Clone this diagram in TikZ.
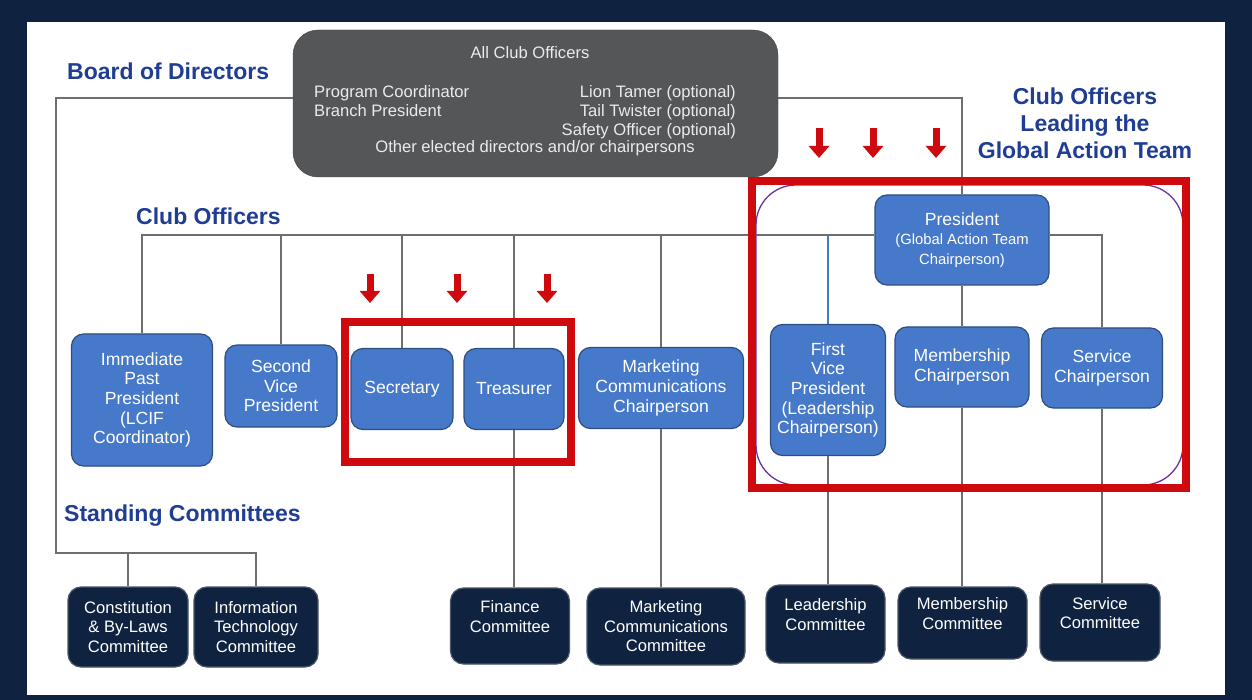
\documentclass[tikz,border=0pt]{standalone}
\usepackage{fontspec}
\setmainfont{Liberation Sans}
\usepackage{xcolor}
\usepackage{tikz}
\usetikzlibrary{arrows.meta}
\pgfdeclarelayer{nodelayer}
\pgfdeclarelayer{edgelayer}
\pgfsetlayers{nodelayer,edgelayer,main}
\definecolor{pagenavy}{HTML}{0F2240}
\definecolor{officerblue}{HTML}{4679C9}
\definecolor{officeredge}{HTML}{2E4E80}
\definecolor{committeenavy}{HTML}{0F2341}
\definecolor{committeeedge}{HTML}{4B5566}
\definecolor{boardgrey}{HTML}{545658}
\definecolor{linegrey}{HTML}{6E6E6E}
\definecolor{headblue}{HTML}{1F3E93}
\definecolor{alertred}{HTML}{CF0A0F}
\definecolor{gatpurple}{HTML}{7030A0}
\newcommand{\presub}{\fontsize{14.8}{18.5}\selectfont}
\tikzset{
    none/.style = {inner sep=0pt},
    officer/.style = {draw=officeredge, fill=officerblue, line width=1.2pt, rounded corners=12pt, text=white, align=center, inner sep=0pt, font=\fontsize{17.6}{19.7}\selectfont},
    committee/.style = {draw=committeeedge, fill=committeenavy, line width=1.2pt, rounded corners=13pt, text=white, align=center, inner sep=0pt, font=\fontsize{16.6}{19.5}\selectfont},
    board/.style = {fill=boardgrey, draw=boardgrey!80!black, rounded corners=25pt},
    boardtext/.style = {inner sep=0pt, text=white!92!black, font=\fontsize{16.6}{19}\selectfont},
    heading/.style = {inner sep=0pt, text=headblue, align=center, font=\bfseries\fontsize{23}{27}\selectfont},
    link/.style = {draw=linegrey, line width=1.4pt},
    vplink/.style = {draw=officerblue, line width=1.4pt},
    callout/.style = {draw=alertred, line width=8pt},
    gatframe/.style = {draw=gatpurple, line width=1.3pt, rounded corners=40pt},
    pointer/.style = {draw=alertred, line width=7pt, -{Triangle[width=20pt,length=12pt]}}
}

\begin{document}
\begin{tikzpicture}[x=1pt, y=-1pt]
  \begin{pgfonlayer}{nodelayer}
    % page
    \fill [pagenavy] (0, 0) rectangle (1252, 700);
    \fill [white] (27, 22) rectangle (1225, 695);
    \draw [style=gatframe] (756, 185) rectangle (1183, 485);
    % all club officers
    \node [style=board, minimum width=485pt, minimum height=147pt] (0) at (535.5, 103.5) {};
    \node [style=boardtext] (1) at (530, 53) {All Club Officers};
    \node [style=boardtext, align=left, anchor=north west] (2) at (314, 85) {Program Coordinator\\Branch President};
    \node [style=boardtext, align=right, anchor=north east] (3) at (736, 85) {Lion Tamer (optional)\\Tail Twister (optional)\\Safety Officer (optional)};
    \node [style=boardtext] (4) at (535, 148) {Other elected directors and/or chairpersons};
    % headings
    \node [style=heading, anchor=west] (5) at (67, 71) {Board of Directors};
    \node [style=heading, anchor=west] (6) at (136, 216) {Club Officers};
    \node [style=heading, anchor=west] (7) at (64, 516) {Standing Committees};
    \node [style=heading] (8) at (1085, 123) {Club Officers\\Leading the\\Global Action Team};
    % club officers
    \node [style=officer, minimum width=141pt, minimum height=132pt] (10) at (142, 400) {Immediate\\Past\\President\\(LCIF\\Coordinator)};
    \node [style=officer, minimum width=112pt, minimum height=82pt] (11) at (281, 386) {Second\\Vice\\President};
    \node [style=officer, minimum width=102pt, minimum height=81pt] (12) at (402, 389) {Secretary};
    \node [style=officer, minimum width=100pt, minimum height=81pt] (13) at (514, 389) {Treasurer};
    \node [style=officer, minimum width=165pt, minimum height=81pt] (14) at (661, 388) {Marketing\\Communications\\Chairperson};
    \node [style=officer, minimum width=174pt, minimum height=90pt] (15) at (962, 240) {President\\\presub(Global Action Team\\\presub Chairperson)};
    \node [style=officer, minimum width=115pt, minimum height=131pt] (16) at (828, 390) {First\\Vice\\President\\(Leadership\\Chairperson)};
    \node [style=officer, minimum width=134pt, minimum height=80pt] (17) at (962, 367) {Membership\\Chairperson};
    \node [style=officer, minimum width=121pt, minimum height=80pt] (18) at (1102, 368) {Service\\Chairperson};
    % standing committees
    \node [style=committee, minimum width=120pt, minimum height=80pt] (20) at (128, 627) {Constitution\\\& By-Laws\\Committee};
    \node [style=committee, minimum width=124pt, minimum height=80pt] (21) at (256, 627) {Information\\Technology\\Committee};
    \node [style=committee, minimum width=119pt, minimum height=76pt] (22) at (510, 626) {Finance\\Committee\\\mbox{}};
    \node [style=committee, minimum width=158pt, minimum height=77pt] (23) at (666, 626.5) {Marketing\\Communications\\Committee};
    \node [style=committee, minimum width=119pt, minimum height=78pt] (24) at (825.5, 624) {Leadership\\Committee\\\mbox{}};
    \node [style=committee, minimum width=129pt, minimum height=72pt] (25) at (962.5, 623) {Membership\\Committee\\\mbox{}};
    \node [style=committee, minimum width=120pt, minimum height=77pt] (26) at (1100, 622.5) {Service\\Committee\\\mbox{}};
    \coordinate (30) at (56, 98);
    \coordinate (31) at (56, 553);
    \coordinate (32) at (142, 235);
  \end{pgfonlayer}
  \begin{pgfonlayer}{edgelayer}
    \draw [style=link] (30 -| 0.west) -- (30) -- (31) -| (21.north);
    \draw [style=link] (31 -| 20.north) -- (20.north);
    \draw [style=link] (30 -| 0.east) -| (15.north);
    \draw [style=link] (32 -| 15.west) -- (32) -- (10.north);
    \foreach \n in {11, 12, 13, 14}
      \draw [style=link] (32 -| \n.north) -- (\n.north);
    \draw [style=vplink] (32 -| 16.north) -- (16.north);
    \draw [style=link] (32 -| 15.east) -| (18.north);
    \draw [style=link] (15.south) -- (17.north);
    \foreach \a/\b in {13/22, 14/23, 16/24, 17/25, 18/26}
      \draw [style=link] (\a.south) -- (\a.south |- \b.north);
  \end{pgfonlayer}
  % highlights
  \draw [style=callout] (345, 322) rectangle (571, 462);
  \draw [style=callout] (752, 181) rectangle (1186, 488);
  \foreach \x in {370, 457, 547}
    \draw [style=pointer] (\x, 274) -- (\x, 303);
  \foreach \x in {819, 873, 936}
    \draw [style=pointer] (\x, 128) -- (\x, 158);
\end{tikzpicture}
\end{document}
